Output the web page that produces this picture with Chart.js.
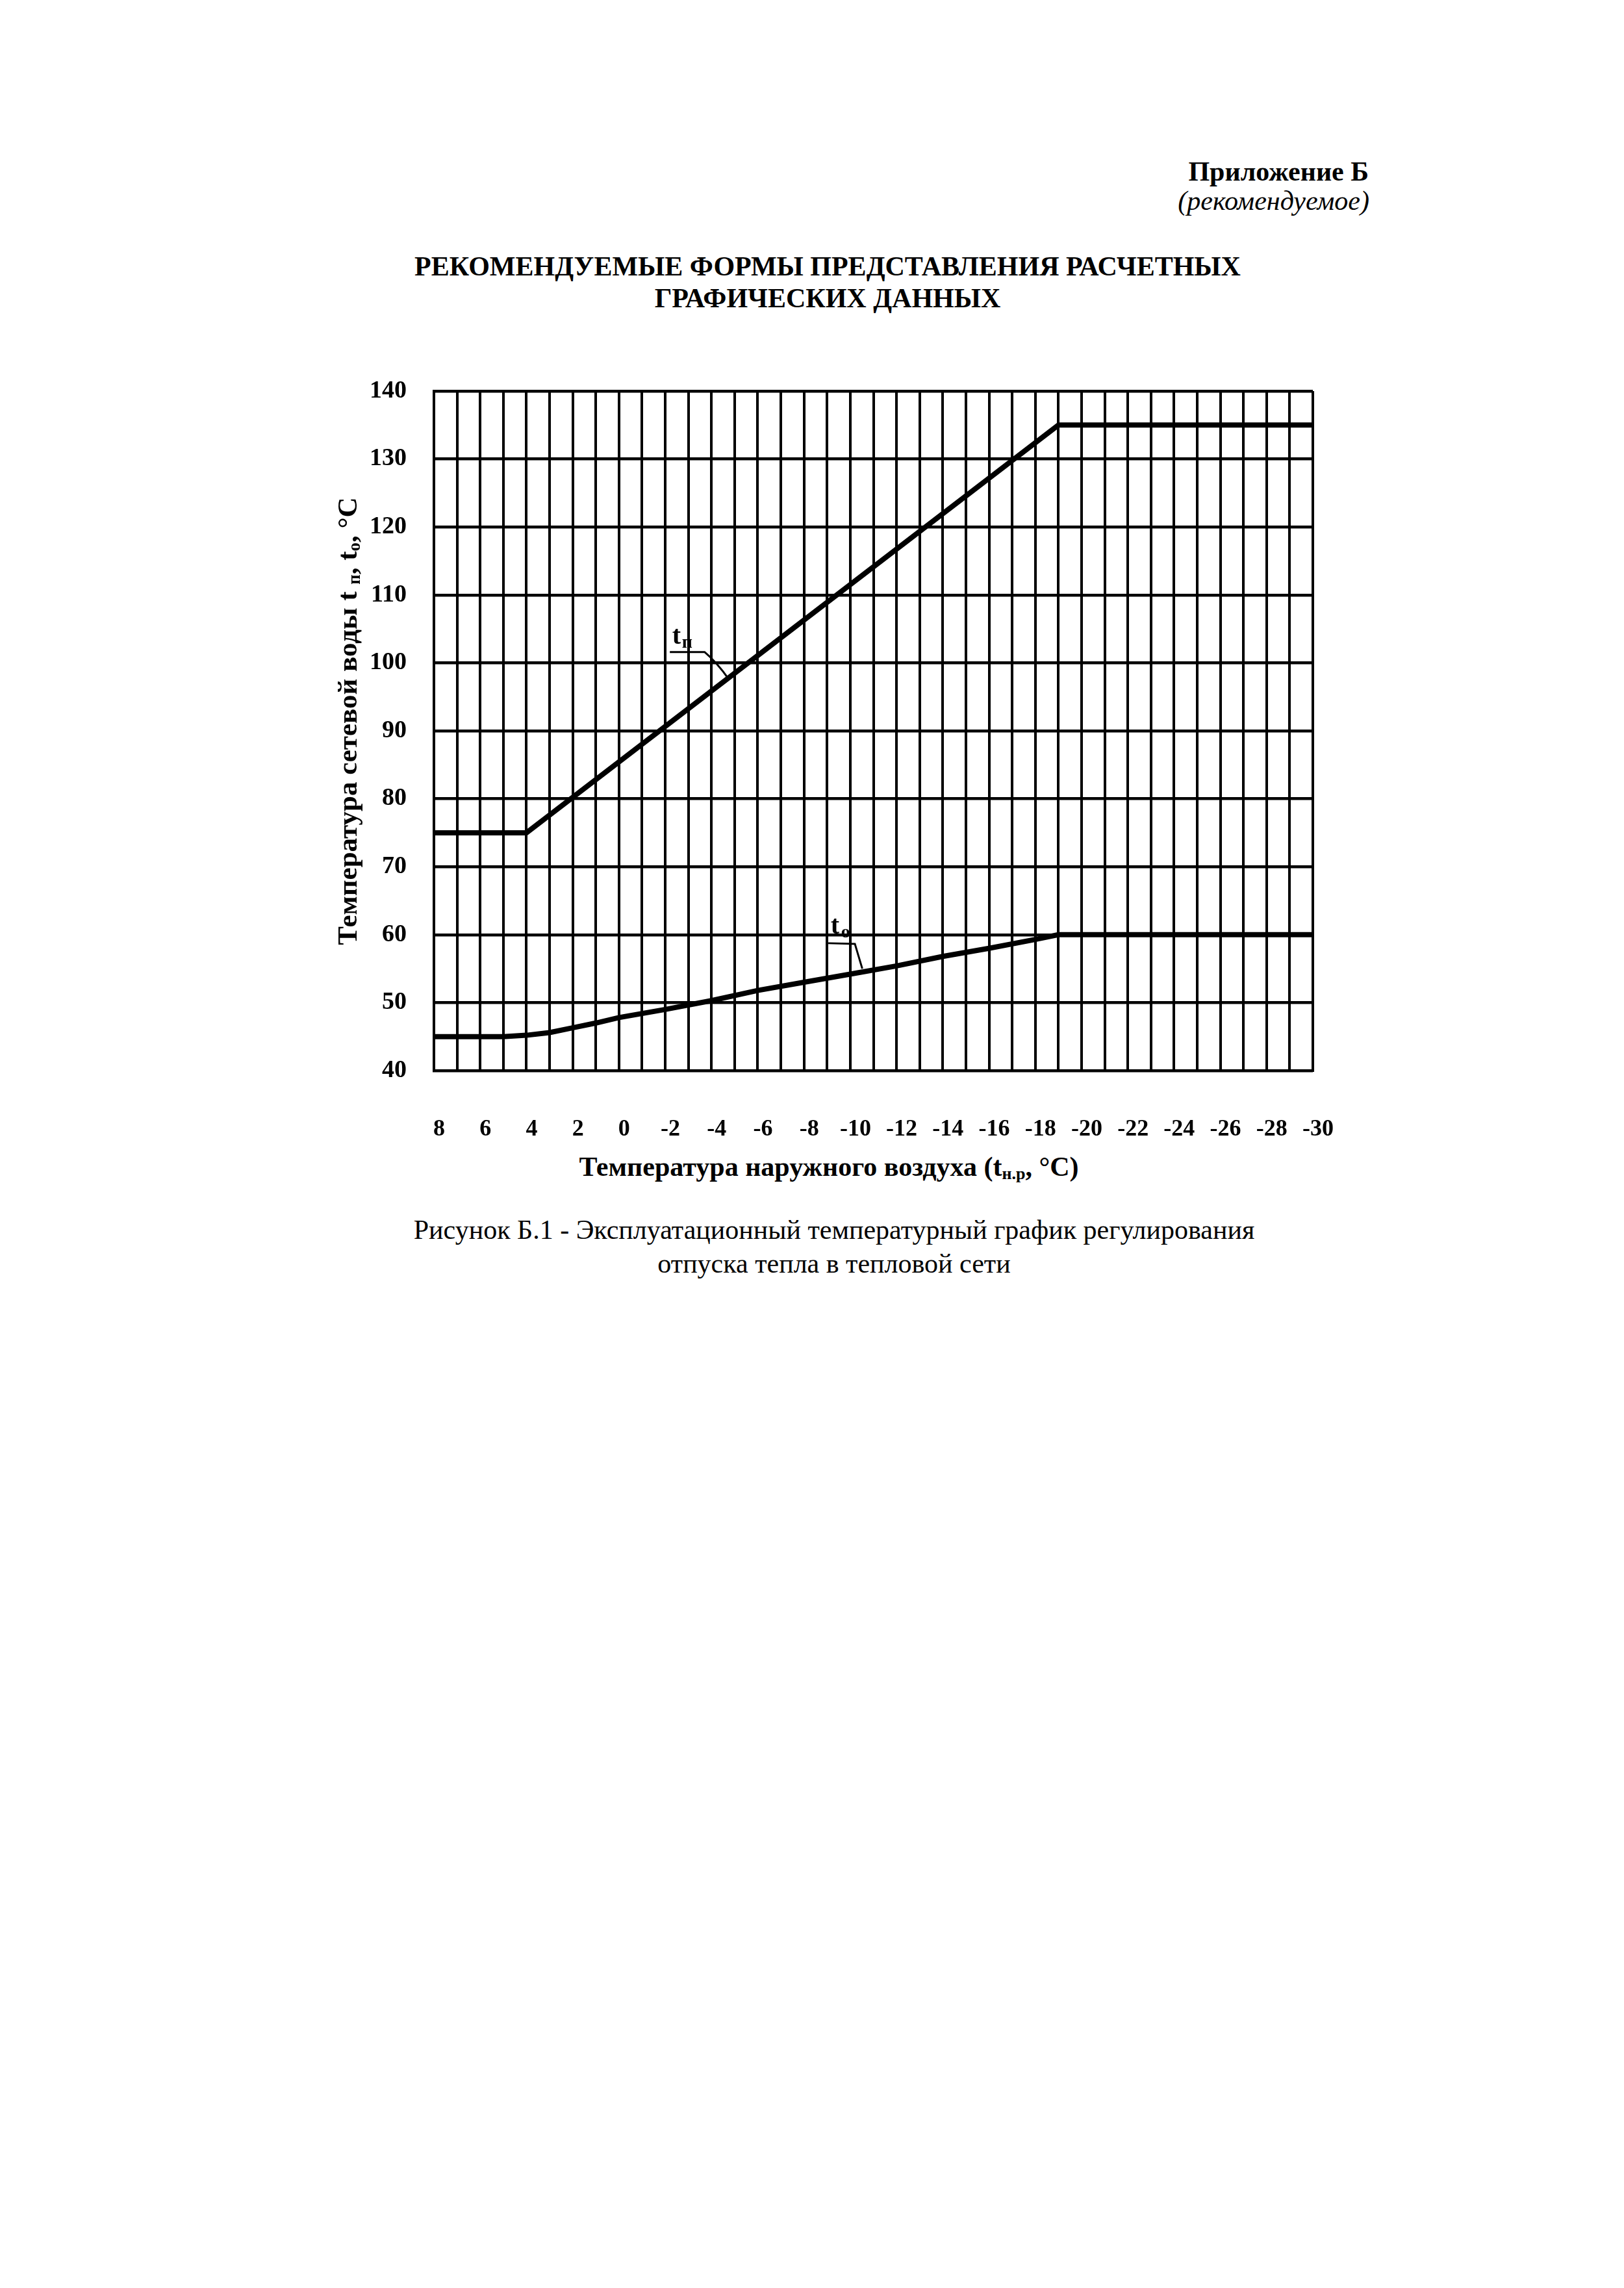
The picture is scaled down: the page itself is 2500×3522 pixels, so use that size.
<!DOCTYPE html>
<html lang="ru">
<head>
<meta charset="utf-8">
<title>Эксплуатационный температурный график</title>
<script src="https://cdn.jsdelivr.net/npm/chart.js@4.4.1/dist/chart.umd.min.js"></script>
<style>
  html, body { margin: 0; padding: 0; background: #fff; }
  body { width: 2500px; height: 3522px; position: relative; font-family: "Liberation Serif", "Times New Roman", serif; color: #000; }
  .abs { position: absolute; white-space: nowrap; }
  #appendix { right: 393px; top: 243px; font-size: 42px; font-weight: bold; line-height: 1; }
  #appendixNote { right: 392px; top: 288px; font-size: 42px; font-style: italic; line-height: 1; }
  #title { left: 0; width: 2548px; top: 386px; font-size: 42px; font-weight: bold; line-height: 49px; text-align: center; }
  #chartBox { left: 400px; top: 560px; width: 1700px; height: 1208px; }
  #yTitle { left: 85px; top: 1085px; width: 900px; height: 50px; line-height: 50px; text-align: center; font-size: 43px; font-weight: bold; transform: rotate(-90deg); }
  #xTitle { left: 0; width: 2552px; top: 1775px; font-size: 42px; font-weight: bold; line-height: 1; text-align: center; }
  #caption { left: 0; width: 2568px; top: 1867px; font-size: 42px; line-height: 52px; text-align: center; }
  sub { font-size: 62%; vertical-align: -0.2em; line-height: 0; }
</style>
</head>
<body>
<div class="abs" id="appendix">Приложение Б</div>
<div class="abs" id="appendixNote">(рекомендуемое)</div>
<div class="abs" id="title">РЕКОМЕНДУЕМЫЕ ФОРМЫ ПРЕДСТАВЛЕНИЯ РАСЧЕТНЫХ<br>ГРАФИЧЕСКИХ ДАННЫХ</div>
<div class="abs" id="chartBox"><canvas id="chart" width="1700" height="1208"></canvas></div>
<div class="abs" id="yTitle">Температура сетевой воды t <sub>п</sub>, t<sub>о</sub>, °С</div>
<div class="abs" id="xTitle">Температура наружного воздуха (t<sub>н.р</sub>, °С)</div>
<div class="abs" id="caption">Рисунок Б.1 - Эксплуатационный температурный график регулирования<br>отпуска тепла в тепловой сети</div>

<script>
// outdoor air temperature, °C (x axis runs from +8 down to -30)
const xTickLabels = ['8', '6', '4', '2', '0', '-2', '-4', '-6', '-8', '-10', '-12', '-14', '-16', '-18', '-20', '-22', '-24', '-26', '-28', '-30'];
const yTickLabels = ['40', '50', '60', '70', '80', '90', '100', '110', '120', '130', '140'];

// supply water t_п
const supplyX = [8, 4, -19, -30];
const supplyY = [75, 75, 135, 135];

// return water t_о
const returnX = [8, 5, 4, 3, 2, 1, 0, -2, -4, -6, -8, -10, -12, -14, -16, -18, -19, -30];
const returnY = [45, 45, 45.2, 45.6, 46.3, 47.0, 47.8, 49.0, 50.3, 51.8, 53.0, 54.2, 55.4, 56.8, 58.0, 59.3, 60, 60];

const FONT = '"Liberation Serif", "Times New Roman", serif';

function toPoints(xs, ys) {
  return xs.map((x, i) => ({ x: x, y: ys[i] }));
}

// curve labels t_п and t_о with their leader lines
const curveLabels = {
  id: 'curveLabels',
  afterDatasetsDraw(chart) {
    const { ctx, scales: { x, y } } = chart;
    const px = v => x.getPixelForValue(v);
    const py = v => y.getPixelForValue(v);
    ctx.save();
    ctx.fillStyle = '#000';
    ctx.strokeStyle = '#000';
    ctx.lineWidth = 3;
    ctx.textBaseline = 'alphabetic';
    ctx.textAlign = 'left';

    // t_п
    ctx.font = 'bold 40px ' + FONT;
    ctx.fillText('t', px(-2.3), py(102.8));
    ctx.font = 'bold 28px ' + FONT;
    ctx.fillText('п', px(-2.72), py(102.2));
    ctx.beginPath();
    ctx.moveTo(px(-2.2), py(101.6));
    ctx.lineTo(px(-3.7), py(101.6));
    ctx.quadraticCurveTo(px(-4.2), py(100.2), px(-4.75), py(97.6));
    ctx.stroke();

    // t_о
    ctx.font = 'bold 40px ' + FONT;
    ctx.fillText('t', px(-9.15), py(60.2));
    ctx.font = 'bold 28px ' + FONT;
    ctx.fillText('о', px(-9.6), py(59.6));
    ctx.beginPath();
    ctx.moveTo(px(-9.05), py(58.75));
    ctx.lineTo(px(-10.2), py(58.65));
    ctx.lineTo(px(-10.52), py(55.0));
    ctx.stroke();
    ctx.restore();
  }
};

new Chart(document.getElementById('chart').getContext('2d'), {
  type: 'scatter',
  data: {
    datasets: [
      {
        label: 't п',
        data: toPoints(supplyX, supplyY),
        showLine: true,
        borderColor: '#000',
        borderWidth: 8,
        pointRadius: 0,
        tension: 0
      },
      {
        label: 't о',
        data: toPoints(returnX, returnY),
        showLine: true,
        borderColor: '#000',
        borderWidth: 8,
        pointRadius: 0,
        tension: 0
      }
    ]
  },
  options: {
    responsive: false,
    animation: false,
    devicePixelRatio: 1,
    // frame inside the canvas: left 268, top 42, right 1621, bottom 1088
    layout: { padding: { left: 0, top: 42, right: 79, bottom: 0 } },
    plugins: {
      legend: { display: false },
      tooltip: { enabled: false }
    },
    scales: {
      x: {
        type: 'linear',
        reverse: true,
        min: -30,
        max: 8,
        afterFit(scale) {
          scale.height = 120;
          // keep the end labels from pushing the frame inward
          scale.paddingLeft = 0;
          scale.paddingRight = 0;
        },
        grid: { color: '#000', lineWidth: 4, drawTicks: false },
        border: { display: true, color: '#000', width: 4 },
        ticks: {
          stepSize: 1,
          maxTicksLimit: 100,
          autoSkip: false,
          maxRotation: 0,
          minRotation: 0,
          padding: 69,
          labelOffset: 8,
          color: '#000',
          font: { family: FONT, size: 36, weight: 'bold' },
          callback: v => xTickLabels.includes(String(v)) ? String(v) : ''
        }
      },
      y: {
        min: 40,
        max: 140,
        afterFit(scale) {
          scale.width = 268;
          scale.paddingTop = 0;
          scale.paddingBottom = 0;
        },
        grid: { color: '#000', lineWidth: 4.5, drawTicks: false },
        border: { display: true, color: '#000', width: 4 },
        ticks: {
          stepSize: 10,
          padding: 42,
          color: '#000',
          font: { family: FONT, size: 38, weight: 'bold' },
          callback: v => yTickLabels.includes(String(v)) ? String(v) : ''
        }
      }
    }
  },
  plugins: [curveLabels]
});
</script>
</body>
</html>
